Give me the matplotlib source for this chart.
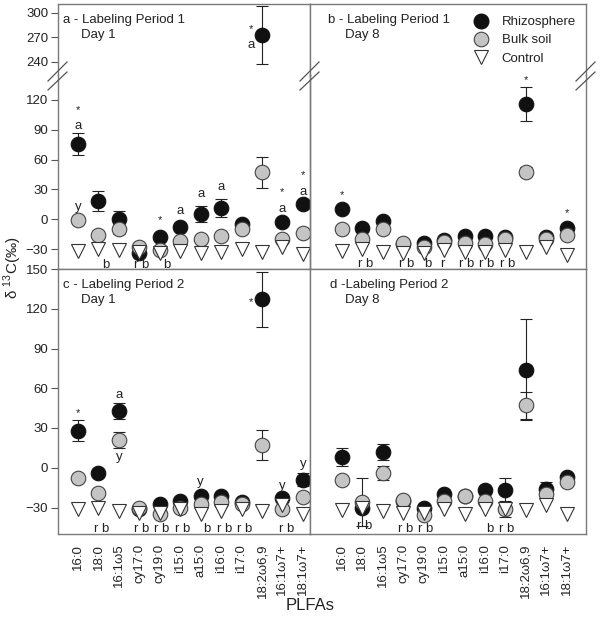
import numpy as np
import matplotlib
matplotlib.use("Agg")
from matplotlib import pyplot as plt
from matplotlib.lines import Line2D

plt.rcParams['font.family'] = ['Liberation Sans', 'DejaVu Sans']
plt.rcParams['mathtext.fontset'] = 'custom'
plt.rcParams['mathtext.rm'] = 'Liberation Sans'

plfas = ['16:0', '18:0', '16:1ω5', 'cy17:0', 'cy19:0', 'i15:0', 'a15:0',
         'i16:0', 'i17:0', '18:2ω6,9', '16:1ω7+', '18:1ω7+']

# a - Labeling Period 1, Day 1
a_rhizo = [76, 18, 0, -34, -18, -8, 5, 11, -5, 273, -3, 15]
a_rhizo_err = [11, 10, 8, 0, 0, 0, 8, 9, 3, 35, 0, 0]
a_bulk = [-1, -16, -10, -28, -31, -22, -20, -17, -10, 47, -20, -14]
a_bulk_err = [0, 0, 5, 0, 0, 0, 0, 0, 0, 16, 0, 0]
a_ctrl = [-32, -30, -31, -33, -34, -32, -34, -33, -30, -33, -28, -35]

# b - Labeling Period 1, Day 8
b_rhizo = [10, -9, -2, -25, -24, -21, -17, -17, -18, 116, -18, -9]
b_rhizo_err = [0, 3, 0, 0, 0, 0, 0, 3, 0, 17, 0, 0]
b_bulk = [-10, -20, -10, -24, -28, -23, -24, -25, -20, 48, -20, -16]
b_bulk_err = [0, 0, 0, 0, 0, 0, 0, 0, 0, 5, 0, 0]
b_ctrl = [-32, -30, -33, -34, -34, -31, -33, -33, -31, -33, -28, -36]

# c - Labeling Period 2, Day 1
c_rhizo = [28, -4, 43, -31, -27, -25, -21, -21, -26, 127, -23, -9]
c_rhizo_err = [8, 0, 6, 0, 0, 0, 0, 0, 0, 21, 0, 5]
c_bulk = [-8, -19, 21, -30, -35, -30, -27, -26, -27, 17, -31, -22]
c_bulk_err = [0, 0, 6, 0, 0, 0, 0, 0, 0, 11.5, 0, 0]
c_ctrl = [-31, -30, -33, -34, -34, -31, -35, -33, -31, -33, -28, -35]

# d - Labeling Period 2, Day 8
d_rhizo = [8, -30, 12, -25, -30, -20, -21, -17, -17, 74, -16, -7]
d_rhizo_err = [7, 0, 6, 0, 0, 0, 0, 0, 9, 38, 5, 0]
d_bulk = [-9, -26, -4, -24, -36, -25, -21, -25, -31, 47, -20, -11]
d_bulk_err = [0, 18, 5, 0, 0, 0, 0, 0, 6, 10, 0, 0]
d_ctrl = [-32, -30, -33, -34, -34, -31, -35, -31, -31, -32, -28, -35]

# significance letters: (category, y, text, x shift)
a_notes = [(0, 110, '*', 0), (0, 94, 'a', 0), (0, 12, 'y', 0), (1, -46, 'b', 0.35),
           (3, -46, 'r b', 0.1), (4, -1, '*', 0), (4, -46, 'b', 0.33), (5, 8, 'a', 0),
           (6, 25, 'a', 0), (7, 32, 'a', 0), (9, 280, '*', -0.55), (9, 261, 'a', -0.55),
           (10, 27, '*', 0), (10, 10, 'a', 0), (11, 44, '*', 0), (11, 27, 'a', 0)]
b_notes = [(0, 24, '*', 0), (1, -45, 'r b', 0.15), (3, -45, 'r b', 0.15), (4, -45, 'b', 0.2),
           (5, -45, 'r', -0.07), (6, -45, 'r b', 0.1), (7, -45, 'r b', 0.1),
           (8, -45, 'r b', 0.1), (9, 140, '*', 0), (11, 6, '*', 0)]
c_notes = [(0, 41, '*', 0), (1, -46, 'r b', 0.15), (2, 55, 'a', 0), (2, 8, 'y', 0),
           (3, -46, 'r b', 0.1), (4, -46, 'r b', 0.1), (5, -46, 'r b', 0.1),
           (6, -11, 'y', 0), (6, -46, 'b', 0.3), (7, -46, 'r b', 0.15),
           (8, -46, 'r b', 0.15), (9, 125, '*', -0.55), (10, -14, 'y', 0),
           (10, -46, 'r b', 0.2), (11, 3, 'y', 0)]
d_notes = [(1, -44, 'r b', 0.1), (3, -46, 'r b', 0.1), (4, -46, 'r b', 0.1),
           (7, -46, 'b', 0.25), (8, -46, 'r b', 0.05)]

x = np.arange(len(plfas))
spine_col = '#7a7a7a'
txt_col = '#222222'

fig = plt.figure(figsize=(6, 6.18), dpi=100)

def px_rect(x0, y0, x1, y1):
    return [x0 / 600, 1 - y1 / 618, (x1 - x0) / 600, (y1 - y0) / 618]

a_up = fig.add_axes(px_rect(58, 4, 310, 75))
a_lo = fig.add_axes(px_rect(58, 75, 310, 269))
b_up = fig.add_axes(px_rect(310, 4, 586, 75))
b_lo = fig.add_axes(px_rect(310, 75, 586, 269))
ax_c = fig.add_axes(px_rect(58, 269, 310, 534))
ax_d = fig.add_axes(px_rect(310, 269, 586, 534))

def draw_points(ax, rhizo, rhizo_err, bulk, bulk_err, ctrl):
    rhizo = np.array(rhizo, float)
    bulk = np.array(bulk, float)
    re = np.array(rhizo_err, float)
    be = np.array(bulk_err, float)
    m = re > 0
    ax.errorbar(x[m], rhizo[m], yerr=re[m], fmt='none', ecolor='#222', elinewidth=0.8,
                capsize=4, capthick=0.8, zorder=2)
    m = be > 0
    ax.errorbar(x[m], bulk[m], yerr=be[m], fmt='none', ecolor='#222', elinewidth=0.8,
                capsize=4, capthick=0.8, zorder=2)
    ax.plot(x, rhizo, 'o', ms=10.5, mfc='#111111', mec='#111111', mew=0.8, zorder=3)
    ax.plot(x, bulk, 'o', ms=10.5, mfc='#c4c4c4', mec='#444444', mew=0.8, zorder=4)
    ax.plot(x, ctrl, 'v', ms=10, mfc='white', mec='#333333', mew=0.8, zorder=5)

def put_notes(notes, ax_lo, ax_up=None):
    for i, y, s, dx in notes:
        ax = ax_up if (ax_up is not None and y > 200) else ax_lo
        fs = 8 if s == '*' else 9.5
        ax.text(i + dx, y, s, ha='center', va='center', fontsize=fs, color=txt_col, zorder=6)

for ax in [a_up, a_lo]:
    draw_points(ax, a_rhizo, a_rhizo_err, a_bulk, a_bulk_err, a_ctrl)
    ax.set_xlim(-0.98, 11.35)
for ax in [b_up, b_lo]:
    draw_points(ax, b_rhizo, b_rhizo_err, b_bulk, b_bulk_err, b_ctrl)
    ax.set_xlim(-1.56, 11.94)
draw_points(ax_c, c_rhizo, c_rhizo_err, c_bulk, c_bulk_err, c_ctrl)
ax_c.set_xlim(-0.98, 11.35)
draw_points(ax_d, d_rhizo, d_rhizo_err, d_bulk, d_bulk_err, d_ctrl)
ax_d.set_xlim(-1.56, 11.94)

put_notes(a_notes, a_lo, a_up)
put_notes(b_notes, b_lo, b_up)
put_notes(c_notes, ax_c)
put_notes(d_notes, ax_d)

# broken axis ranges
for ax in [a_up, b_up]:
    ax.set_ylim(224, 311)
    ax.spines['bottom'].set_visible(False)
for ax in [a_lo, b_lo]:
    ax.set_ylim(-50, 145)
    ax.spines['top'].set_visible(False)
    ax.set_facecolor('none')
for ax in [ax_c, ax_d]:
    ax.set_ylim(-50, 150)

a_up.set_yticks([240, 270, 300])
a_lo.set_yticks([-30, 0, 30, 60, 90, 120])
ax_c.set_yticks([-30, 0, 30, 60, 90, 120, 150])

for ax in [a_up, a_lo, b_up, b_lo, ax_c, ax_d]:
    for sp in ax.spines.values():
        sp.set_color(spine_col)
        sp.set_linewidth(1)
    ax.set_xticks(x)
    ax.tick_params(axis='y', direction='out', length=5, width=0.8, color='#555',
                   labelsize=9.5, labelcolor=txt_col, pad=2)
    ax.tick_params(axis='x', length=0, labelbottom=False)

for ax in [b_up, b_lo, ax_d]:
    ax.tick_params(axis='y', left=False, labelleft=False)

for ax in [ax_c, ax_d]:
    ax.tick_params(axis='x', labelbottom=True, pad=7, labelsize=9.5, labelcolor=txt_col)
    ax.set_xticklabels(plfas, rotation=90, va='top', ha='center')

# panel titles
def panel_title(ax, line1, line2, dx1, dx2):
    ax.annotate(line1, xy=(0, 1), xycoords='axes fraction', xytext=(dx1, -16),
                textcoords='offset pixels', ha='left', va='center', fontsize=9.5, color=txt_col)
    ax.annotate(line2, xy=(0, 1), xycoords='axes fraction', xytext=(dx2, -31),
                textcoords='offset pixels', ha='left', va='center', fontsize=9.5, color=txt_col)

panel_title(a_up, 'a - Labeling Period 1', 'Day 1', 5, 23)
panel_title(b_up, 'b - Labeling Period 1', 'Day 8', 18, 35)
panel_title(ax_c, 'c - Labeling Period 2', 'Day 1', 5, 23)
panel_title(ax_d, 'd -Labeling Period 2', 'Day 8', 20, 35)

# break marks
for cx in [58, 310, 586]:
    for y0, y1 in [(81, 62), (90, 72)]:
        fig.add_artist(Line2D([(cx - 10) / 600, (cx + 9) / 600], [1 - y0 / 618, 1 - y1 / 618],
                              transform=fig.transFigure, color='#555', lw=0.9))

handles = [Line2D([], [], ls='none', marker='o', ms=10.5, mfc='#111111', mec='#111111'),
           Line2D([], [], ls='none', marker='o', ms=10.5, mfc='#c4c4c4', mec='#444444', mew=0.8),
           Line2D([], [], ls='none', marker='v', ms=10, mfc='white', mec='#333333', mew=0.8)]
fig.legend(handles, ['Rhizosphere', 'Bulk soil', 'Control'], loc='upper left',
           bbox_to_anchor=(474 / 600, 1 - 16 / 618), frameon=False, fontsize=9.5,
           handlelength=1.05, handletextpad=1.05, labelspacing=0.45, borderpad=0, borderaxespad=0,
           labelcolor=txt_col)

fig.text(13 / 600, 1 - 268 / 618, r'δ $^{\mathregular{13}}$C(‰)', rotation=90, ha='center',
         va='center', fontsize=11, color=txt_col)
fig.text(310 / 600, 1 - 606 / 618, 'PLFAs', ha='center', va='center', fontsize=12, color=txt_col)

fig.savefig('out.png', dpi=100)
